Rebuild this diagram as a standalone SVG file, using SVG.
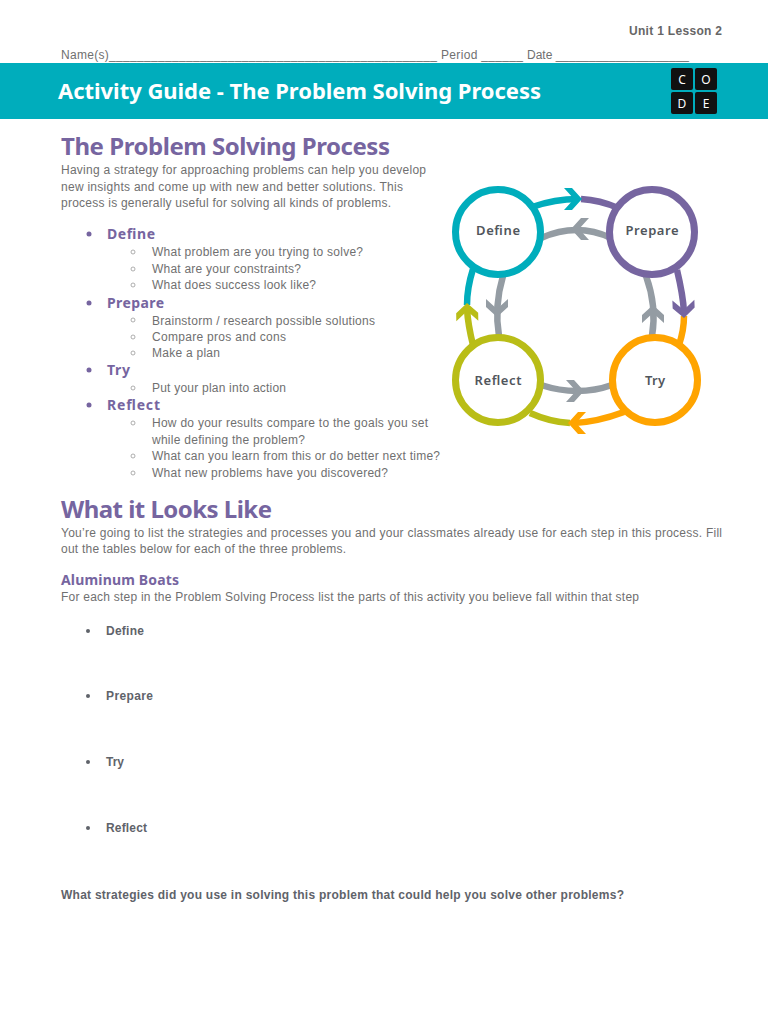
<svg xmlns="http://www.w3.org/2000/svg" width="768" height="1024" viewBox="0 0 768 1024">
<style>
text{font-family:"Liberation Sans",Arial,sans-serif;font-size:12px;fill:#707070}
.b{font-weight:bold;fill:#666}
.dk{font-weight:bold;fill:#5f636a}
.h1{font-family:"Noto Sans",sans-serif;font-weight:bold;font-size:24px;fill:#7665a0}
.h3{font-family:"Noto Sans",sans-serif;font-weight:bold;font-size:14px;fill:#7665a0}
.lb{font-family:"Noto Sans",sans-serif;font-weight:600;font-size:13px;fill:#51565c;text-anchor:middle}
.lg{font-family:"Noto Sans",sans-serif;font-size:12px;fill:#fff;text-anchor:middle}
.node{fill:#fff;stroke-width:7}
.a{fill:none;stroke-width:6.5}
.t{stroke:#00adbc}.p{stroke:#7665a0}.o{stroke:#ffa400}.g{stroke:#b9bd17}.y{stroke:#949ca3}
.pd{fill:#7665a0}.gd{fill:#b9bd17}.od{fill:#ffa400}.td{fill:#00adbc}.yd{fill:#949ca3}
.dot{fill:#7665a0}.ring{fill:none;stroke:#999;stroke-width:.8}
</style>
<defs><path id="ah" d="M0 0L-10 11L-18 11L-8 0L-18 -11L-10 -11Z"/></defs>
<rect width="768" height="1024" fill="#fff"/>
<text x="629" y="35" class="b" textLength="93">Unit 1 Lesson 2</text>
<text x="61" y="59" textLength="376">Name(s)_______________________________________________</text>
<text x="441" y="59" textLength="82">Period ______</text>
<text x="527" y="59" textLength="162">Date ____________________</text>
<rect x="0" y="63" width="768" height="56" fill="#00adbc"/>
<text x="58" y="99" style="font-family:'Noto Sans',sans-serif;font-weight:bold;font-size:22px;fill:#fff" textLength="483">Activity Guide - The Problem Solving Process</text>
<g id="logo">
<rect x="671" y="68" width="22" height="22" rx="2" fill="#111"/><rect x="695" y="68" width="22" height="22" rx="2" fill="#111"/>
<rect x="671" y="92" width="22" height="22" rx="2" fill="#111"/><rect x="695" y="92" width="22" height="22" rx="2" fill="#111"/>
<text x="682" y="84" class="lg">C</text><text x="706" y="84" class="lg">O</text><text x="682" y="108" class="lg">D</text><text x="706" y="108" class="lg">E</text>
</g>
<text x="61" y="155" class="h1" textLength="329">The Problem Solving Process</text>
<text x="61" y="174" textLength="365">Having a strategy for approaching problems can help you develop</text>
<text x="61" y="191" textLength="342">new insights and come up with new and better solutions. This</text>
<text x="61" y="207" textLength="330">process is generally useful for solving all kinds of problems.</text>
<circle class="dot" cx="89" cy="234" r="2.5"/><text x="107" y="239" class="h3" textLength="48">Define</text>
<circle class="ring" cx="133" cy="252" r="2"/><text x="152" y="256" textLength="211">What problem are you trying to solve?</text>
<circle class="ring" cx="133" cy="269" r="2"/><text x="152" y="273" textLength="149">What are your constraints?</text>
<circle class="ring" cx="133" cy="285" r="2"/><text x="152" y="289" textLength="164">What does success look like?</text>
<circle class="dot" cx="89" cy="303" r="2.5"/><text x="107" y="308" class="h3" textLength="57">Prepare</text>
<circle class="ring" cx="133" cy="320" r="2"/><text x="152" y="325" textLength="223">Brainstorm / research possible solutions</text>
<circle class="ring" cx="133" cy="337" r="2"/><text x="152" y="341" textLength="134">Compare pros and cons</text>
<circle class="ring" cx="133" cy="353" r="2"/><text x="152" y="357" textLength="68">Make a plan</text>
<circle class="dot" cx="89" cy="370" r="2.5"/><text x="107" y="375" class="h3" textLength="23">Try</text>
<circle class="ring" cx="133" cy="388" r="2"/><text x="152" y="392" textLength="134">Put your plan into action</text>
<circle class="dot" cx="89" cy="405" r="2.5"/><text x="107" y="410" class="h3" textLength="53">Reflect</text>
<circle class="ring" cx="133" cy="423" r="2"/><text x="152" y="427" textLength="276">How do your results compare to the goals you set</text>
<text x="152" y="444" textLength="153">while defining the problem?</text>
<circle class="ring" cx="133" cy="456" r="2"/><text x="152" y="460" textLength="288">What can you learn from this or do better next time?</text>
<circle class="ring" cx="133" cy="473" r="2"/><text x="152" y="477" textLength="236">What new problems have you discovered?</text>
<text x="61" y="518" class="h1" textLength="211">What it Looks Like</text>
<text x="61" y="537" textLength="661">You’re going to list the strategies and processes you and your classmates already use for each step in this process. Fill</text>
<text x="61" y="553" textLength="285">out the tables below for each of the three problems.</text>
<text x="61" y="585" class="h3" textLength="118">Aluminum Boats</text>
<text x="61" y="601" textLength="578">For each step in the Problem Solving Process list the parts of this activity you believe fall within that step</text>
<circle cx="88" cy="631" r="2" fill="#5f636a"/><text x="106" y="635" class="dk" textLength="38">Define</text>
<circle cx="88" cy="696" r="2" fill="#5f636a"/><text x="106" y="700" class="dk" textLength="47">Prepare</text>
<circle cx="88" cy="762" r="2" fill="#5f636a"/><text x="106" y="766" class="dk">Try</text>
<circle cx="88" cy="828" r="2" fill="#5f636a"/><text x="106" y="832" class="dk" textLength="41">Reflect</text>
<text x="61" y="899" class="dk" textLength="563">What strategies did you use in solving this problem that could help you solve other problems?</text>
<g id="connectors">
<path class="a t" d="M532 207Q555 199 578 199"/><path class="a p" d="M581 199Q600 200 618 208"/>
<use href="#ah" class="td" transform="translate(582 199)"/>
<path class="a p" d="M677 270Q683 295 684 312"/><path class="a o" d="M684 316Q684 330 679 345"/>
<use href="#ah" class="pd" transform="translate(684 318) rotate(88)"/>
<path class="a o" d="M624 412Q597 422 574 423"/><path class="a g" d="M570 423Q550 422 530 413"/>
<use href="#ah" class="od" transform="translate(568 423) rotate(180)"/>
<path class="a g" d="M473 345Q468 325 467 309"/><path class="a t" d="M467 305Q467 288 473 269"/>
<use href="#ah" class="gd" transform="translate(467 303) rotate(-91)"/>
<path class="a y" d="M541 238Q577 222 611 238"/>
<use href="#ah" class="yd" transform="translate(571 229) rotate(180)"/>
<path class="a y" d="M503 276Q494 306 499 336"/>
<use href="#ah" class="yd" transform="translate(497 317) rotate(90)"/>
<path class="a y" d="M646 276Q657 306 652 336"/>
<use href="#ah" class="yd" transform="translate(653 305) rotate(-90)"/>
<path class="a y" d="M541 385Q578 397 612 385"/>
<use href="#ah" class="yd" transform="translate(584 391)"/>
</g>
<g id="define"><circle class="node t" cx="498" cy="232" r="42.5"/><text x="498" y="235" class="lb" textLength="44">Define</text></g>
<g id="prepare"><circle class="node p" cx="652" cy="232" r="42.5"/><text x="652" y="235" class="lb" textLength="53">Prepare</text></g>
<g id="try"><circle class="node o" cx="655" cy="380" r="42.5"/><text x="655" y="385" class="lb" textLength="20">Try</text></g>
<g id="reflect"><circle class="node g" cx="498" cy="380" r="42.5"/><text x="498" y="385" class="lb" textLength="47">Reflect</text></g>
</svg>
